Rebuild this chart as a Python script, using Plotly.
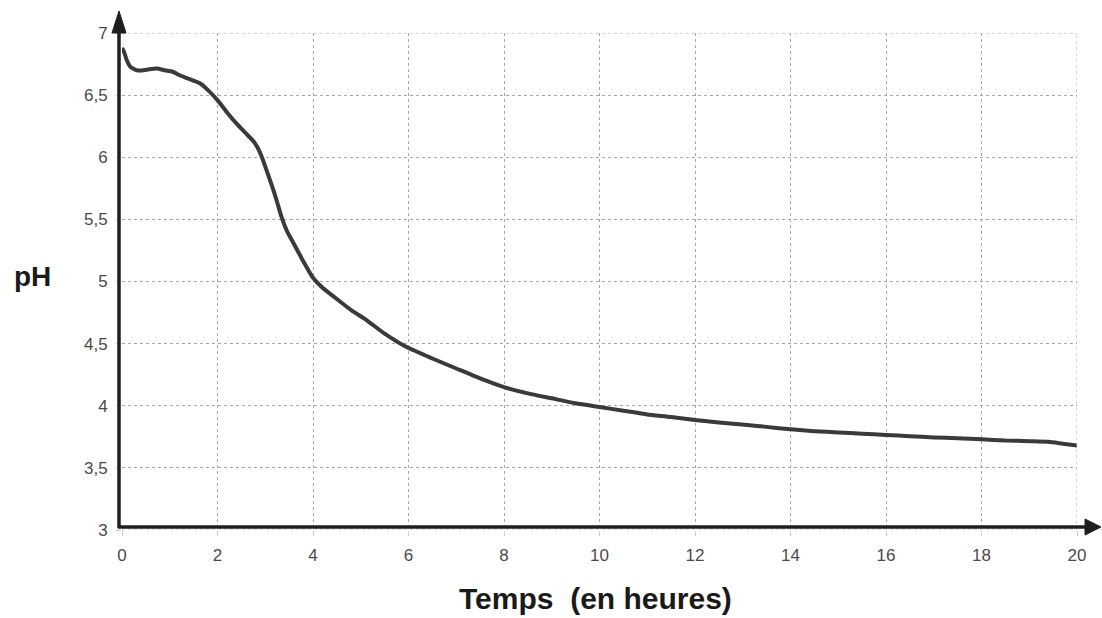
import plotly.graph_objects as go

# Data
temps = [0, 0.05, 0.1, 0.17, 0.25, 0.31, 0.45, 0.6, 0.73, 0.9, 1.05, 1.21, 1.4, 1.63, 1.8,
         2.02, 2.2, 2.4, 2.6, 2.75, 2.85, 2.95, 3.05, 3.15, 3.24, 3.34, 3.45, 3.59, 3.8, 4.0, 4.2,
         4.43, 4.8, 5.12, 5.5, 5.97, 6.5, 7.0, 7.5, 8.0, 8.5, 9.0, 9.5, 10.0, 10.5, 11.0,
         11.5, 12.0, 12.5, 13.1, 13.5, 14.0, 14.5, 15.0, 15.5, 16.0, 16.5, 17.0, 17.5, 18.0,
         18.5, 19.0, 19.4, 19.7, 20.0]
ph = [6.88, 6.84, 6.78, 6.73, 6.71, 6.70, 6.70, 6.71, 6.715, 6.70, 6.69, 6.66, 6.63, 6.595, 6.54,
      6.45, 6.36, 6.27, 6.19, 6.13, 6.07, 5.98, 5.87, 5.76, 5.65, 5.52, 5.41, 5.31, 5.16, 5.03, 4.95,
      4.88, 4.77, 4.69, 4.58, 4.47, 4.38, 4.30, 4.22, 4.15, 4.10, 4.06, 4.02, 3.99, 3.96, 3.93,
      3.91, 3.885, 3.865, 3.845, 3.83, 3.81, 3.795, 3.785, 3.775, 3.765, 3.755, 3.745, 3.738, 3.73,
      3.72, 3.715, 3.71, 3.695, 3.68]

x_ticks = [0, 2, 4, 6, 8, 10, 12, 14, 16, 18, 20]
y_ticks = [3, 3.5, 4, 4.5, 5, 5.5, 6, 6.5, 7]

x_title = "Temps\u00a0 (en heures)"
y_title = "pH"

W, H = 1102, 618
L, R, T, B = 122, 25, 33, 88
pw, ph_ = W - L - R, H - T - B


def px(xp):
    return (xp - L) / pw


def py(yp):
    return (H - B - yp) / ph_


fig = go.Figure()
fig.add_trace(go.Scatter(
    x=temps, y=ph, mode="lines",
    line=dict(color="#3a3a3a", width=4, shape="spline", smoothing=0.5),
    showlegend=False, hoverinfo="skip",
))

font_family = "Liberation Sans, Arial, sans-serif"
grid_col = "#a8a8a8"
fig.update_layout(
    width=W, height=H,
    margin=dict(l=L, r=R, t=T, b=B),
    paper_bgcolor="white", plot_bgcolor="white",
    separators=",.",
    font=dict(family=font_family, color="#4a4a4a", size=17),
    xaxis=dict(range=[0, 20], tickvals=x_ticks, showgrid=True, gridcolor=grid_col,
               griddash="dot", gridwidth=1, zeroline=False, showline=False,
               ticks="outside", ticklen=5, tickcolor="#cccccc", ticklabelstandoff=5,
               tickfont=dict(size=17, color="#4a4a4a")),
    yaxis=dict(range=[3, 7], tickvals=y_ticks, showgrid=True, gridcolor=grid_col,
               griddash="dot", gridwidth=1, zeroline=False, showline=False,
               ticks="outside", ticklen=5, tickcolor="#cccccc", ticklabelstandoff=5,
               tickfont=dict(size=17, color="#4a4a4a")),
)

# dotted edge grid lines (right / top / bottom)
fig.add_shape(type="line", xref="x", yref="paper", x0=20, x1=20, y0=0, y1=1,
              line=dict(color=grid_col, width=1, dash="dot"))
fig.add_shape(type="line", xref="paper", yref="y", x0=0, x1=1, y0=7, y1=7,
              line=dict(color=grid_col, width=1, dash="dot"))
fig.add_shape(type="line", xref="paper", yref="y", x0=0, x1=1, y0=3, y1=3,
              line=dict(color=grid_col, width=1, dash="dot"))

# black axes with arrows
axis_col = "#1e1e1e"
fig.add_shape(type="line", xref="paper", yref="paper",
              x0=px(119), x1=px(119), y0=py(528), y1=py(28),
              line=dict(color=axis_col, width=3.5))
fig.add_shape(type="path", xref="paper", yref="paper",
              path=f"M {px(119)} {py(11)} L {px(112)} {py(33)} L {px(126)} {py(33)} Z",
              fillcolor=axis_col, line=dict(color=axis_col, width=1))
fig.add_shape(type="line", xref="paper", yref="paper",
              x0=px(118), x1=px(1088), y0=py(527), y1=py(527),
              line=dict(color=axis_col, width=3.5))
fig.add_shape(type="path", xref="paper", yref="paper",
              path=f"M {px(1101)} {py(527)} L {px(1085)} {py(519)} L {px(1085)} {py(535)} Z",
              fillcolor=axis_col, line=dict(color=axis_col, width=1))

fig.add_annotation(text=f"<b>{x_title}</b>", xref="paper", yref="paper",
                   x=px(595), y=py(598), showarrow=False, xanchor="center", yanchor="middle",
                   font=dict(family=font_family, size=30, color="#1a1a1a"))
fig.add_annotation(text=f"<b>{y_title}</b>", xref="paper", yref="paper",
                   x=px(32), y=py(276), showarrow=False, xanchor="center", yanchor="middle",
                   font=dict(family=font_family, size=28, color="#1a1a1a"))

fig.write_html("out.html", config={"displayModeBar": False},
               post_script="document.body.style.margin='0';document.body.style.overflow='hidden';")
